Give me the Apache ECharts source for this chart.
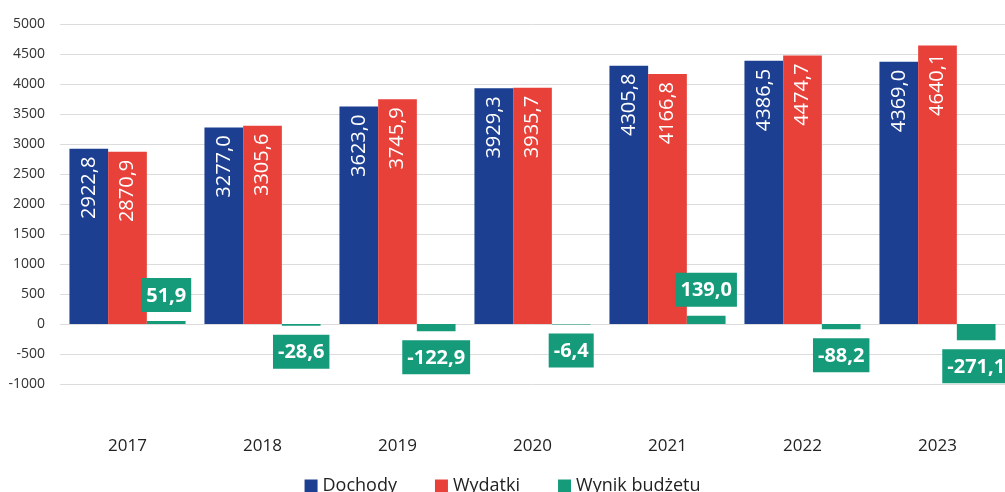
<!DOCTYPE html>
<html>
<head>
<meta charset="utf-8">
<script src="https://cdn.jsdelivr.net/npm/echarts@6/dist/echarts.min.js"></script>
<style>
html, body { margin: 0; padding: 0; background: #fff; }
#chart { width: 1005px; height: 492px; }
</style>
</head>
<body>
<div id="chart"></div>
<script>
const years = ['2017', '2018', '2019', '2020', '2021', '2022', '2023']
const dochody = [2922.8, 3277.0, 3623.0, 3929.3, 4305.8, 4386.5, 4369.0]
const wydatki = [2870.9, 3305.6, 3745.9, 3935.7, 4166.8, 4474.7, 4640.1]
const wynik = [51.9, -28.6, -122.9, -6.4, 139.0, -88.2, -271.1]

const font = 'Open Sans'
const fmt = v => v.toFixed(1).replace('.', ',')

const insideLabel = {
    show: true,
    position: 'insideTop',
    rotate: 90,
    align: 'right',
    verticalAlign: 'middle',
    distance: 8,
    color: '#fff',
    fontFamily: font,
    fontSize: 20,
    formatter: p => fmt(p.value)
}

const wynikData = wynik.map(v => ({
    value: v,
    label: {position: v >= 0 ? 'top' : 'bottom'}
}))

const chart = echarts.init(document.getElementById('chart'))

chart.setOption({
    animation: false,
    grid: {left: 60, right: 0, top: 24, bottom: 108},
    legend: {
        bottom: -8,
        left: 'center',
        itemWidth: 13,
        itemHeight: 13,
        itemGap: 38,
        icon: 'rect',
        textStyle: {fontFamily: font, fontSize: 18, color: '#222'},
        data: ['Dochody', 'Wydatki', 'Wynik budżetu']
    },
    xAxis: {
        type: 'category',
        data: years,
        axisLine: {show: false},
        axisTick: {show: false},
        axisLabel: {margin: 54, fontFamily: font, fontSize: 17, color: '#222'}
    },
    yAxis: {
        type: 'value',
        min: -1000,
        max: 5000,
        interval: 500,
        axisLabel: {margin: 15, fontFamily: font, fontSize: 14, color: '#333', formatter: v => String(v)},
        splitLine: {lineStyle: {color: '#dcdcdc', width: 1}}
    },
    series: [
        {
            name: 'Dochody',
            type: 'bar',
            data: dochody,
            barGap: '0%',
            barCategoryGap: '14%',
            itemStyle: {color: '#1c3f91'},
            label: insideLabel
        },
        {
            name: 'Wydatki',
            type: 'bar',
            data: wydatki,
            barGap: '0%',
            barCategoryGap: '14%',
            itemStyle: {color: '#e8413a'},
            label: insideLabel
        },
        {
            name: 'Wynik budżetu',
            type: 'bar',
            data: wynikData,
            barGap: '0%',
            barCategoryGap: '14%',
            itemStyle: {color: '#159a7a'},
            label: {
                show: true,
                distance: 9,
                color: '#fff',
                fontFamily: font,
                fontWeight: 'bold',
                fontSize: 20,
                backgroundColor: '#159a7a',
                padding: [8, 5, 6, 5],
                formatter: p => fmt(p.value)
            }
        }
    ]
})
</script>
</body>
</html>
